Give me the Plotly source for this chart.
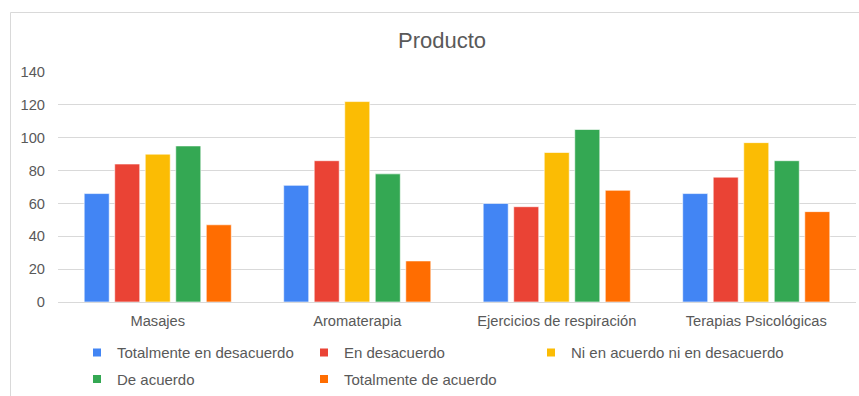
import plotly.graph_objects as go

# Survey results per product
categories = ["Masajes", "Aromaterapia", "Ejercicios de respiración", "Terapias Psicológicas"]
series_names = [
    "Totalmente en desacuerdo",
    "En desacuerdo",
    "Ni en acuerdo ni en desacuerdo",
    "De acuerdo",
    "Totalmente de acuerdo",
]
totalmente_desacuerdo = [66, 71, 60, 66]
en_desacuerdo = [84, 86, 58, 76]
ni_acuerdo_ni_desacuerdo = [90, 122, 91, 97]
de_acuerdo = [95, 78, 105, 86]
totalmente_acuerdo = [47, 25, 68, 55]
y_ticks = [0, 20, 40, 60, 80, 100, 120, 140]

series_values = [
    totalmente_desacuerdo,
    en_desacuerdo,
    ni_acuerdo_ni_desacuerdo,
    de_acuerdo,
    totalmente_acuerdo,
]
colors = ["#4285F4", "#EA4335", "#FBBC04", "#34A853", "#FF6D01"]

FONT = "Liberation Sans, Arial, sans-serif"
TEXT = "#595959"

W, H = 859, 396
ML, MR, MT, MB = 58, 3, 72, 94
PW = W - ML - MR
PH = H - MT - MB

def px_x(x):
    return (x - ML) / PW

def px_y(y):
    return (H - MB - y) / PH

# Legend grid: three columns on the first row, two on the second
legend_slots = [(77, 352.7), (304, 352.7), (531, 352.7), (77, 379.3), (304, 379.3)]
legend_ids = ["legend", "legend2", "legend3", "legend4", "legend5"]

fig = go.Figure()

for name, vals, col in zip(series_names, series_values, colors):
    fig.add_trace(go.Bar(
        x=categories, y=vals, name=name,
        marker=dict(color=col, line=dict(color="rgba(255,255,255,0.6)", width=1)),
        showlegend=False,
    ))

# Legend entries with small square keys
for name, col, lid in zip(series_names, colors, legend_ids):
    fig.add_trace(go.Scatter(
        x=[None], y=[None], mode="markers", name=name,
        marker=dict(symbol="square", size=8, color=col),
        legend=lid, showlegend=True,
    ))

legend_layout = {}
for lid, (lx, ly) in zip(legend_ids, legend_slots):
    legend_layout[lid] = dict(
        orientation="h",
        font=dict(family=FONT, size=15, color=TEXT),
        bgcolor="rgba(0,0,0,0)",
        xref="container", yref="container",
        x=lx / W, y=1 - ly / H,
        xanchor="left", yanchor="middle",
        itemclick=False, itemdoubleclick=False,
    )

fig.update_layout(
    width=W, height=H,
    margin=dict(l=ML, r=MR, t=MT, b=MB, pad=0, autoexpand=False),
    paper_bgcolor="white", plot_bgcolor="white",
    font=dict(family=FONT, size=14.7, color=TEXT),
    title=dict(
        text="Producto", x=442 / W, xanchor="center", xref="container",
        y=1 - 40 / H, yanchor="middle", yref="container",
        font=dict(family=FONT, size=22, color=TEXT),
    ),
    barmode="group", bargap=0.235, bargroupgap=0.18,
    xaxis=dict(
        showgrid=False, showline=False, ticks="", zeroline=False,
        tickfont=dict(family=FONT, size=14.7, color=TEXT),
        ticklabelstandoff=8,
    ),
    yaxis=dict(
        range=[0, 140], tickvals=y_ticks,
        showgrid=True, gridcolor="#D9D9D9", gridwidth=1,
        zeroline=True, zerolinecolor="#D9D9D9", zerolinewidth=1,
        showline=False, ticks="",
        tickfont=dict(family=FONT, size=14.7, color=TEXT),
        ticklabelstandoff=12,
    ),
    shapes=[dict(
        type="rect", xref="paper", yref="paper", layer="below",
        x0=px_x(10.5), x1=px_x(880), y0=px_y(410), y1=px_y(12.5),
        line=dict(color="#D9D9D9", width=1), fillcolor="rgba(0,0,0,0)",
    )],
    **legend_layout,
)

fig.write_html("out.html")
